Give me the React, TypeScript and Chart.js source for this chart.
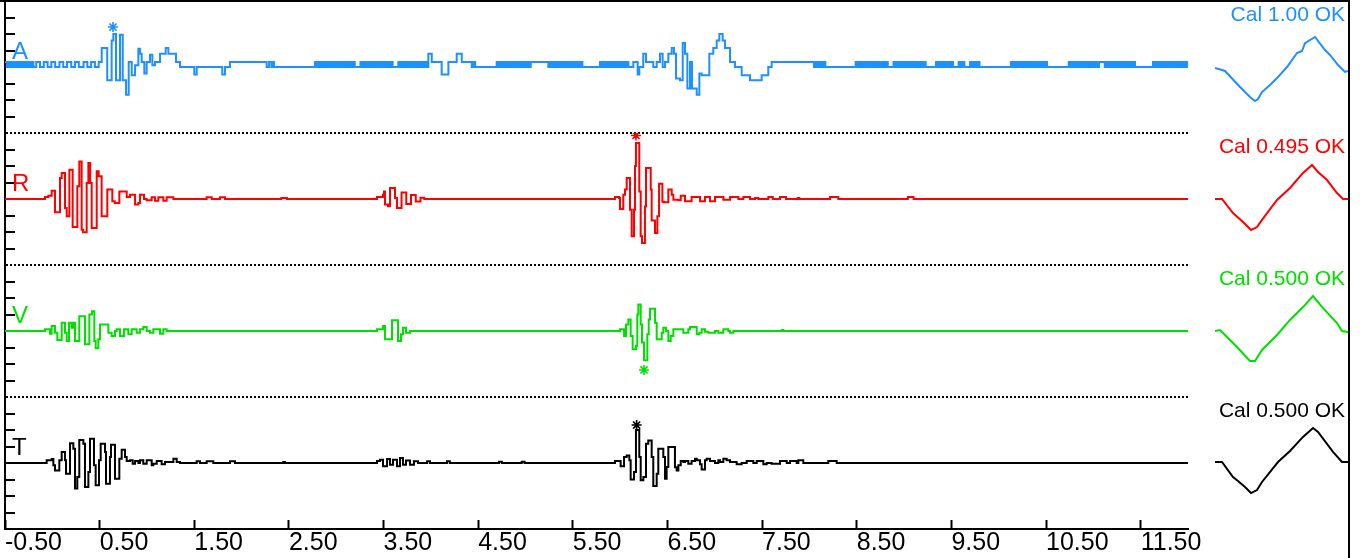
import React, { useEffect, useRef } from 'react';
import { Chart, registerables } from 'chart.js';

Chart.register(...registerables);

const FONT = "'Liberation Sans', Arial, Helvetica, sans-serif";

const CHANNELS = ['A', 'R', 'V', 'T'];
const COLORS = ['#1E90FF', '#FF0000', '#00E000', '#000000'];
const CAL_LABELS = ['Cal 1.00 OK', 'Cal 0.495 OK', 'Cal 0.500 OK', 'Cal 0.500 OK'];
const AXIS_IDS = ['yA', 'yR', 'yV', 'yT'];

const X_TICKS = [-0.5, 0.5, 1.5, 2.5, 3.5, 4.5, 5.5, 6.5, 7.5, 8.5, 9.5, 10.5, 11.5];
const BAND_TICKS = [-3, -2, -1, 0, 1, 2, 3, 4];

// ---- Channel A (time s, amplitude) ----
const A_TIME = [
  -0.500, -0.480, -0.460, -0.440, -0.420, -0.400, -0.380, -0.360, -0.340, -0.320, -0.300, -0.280, -0.260, -0.240, -0.220, -0.200,
  -0.170, -0.130, -0.090, -0.050, -0.010, 0.030, 0.075, 0.115, 0.155, 0.200, 0.240, 0.280, 0.330, 0.370, 0.410, 0.450, 0.490,
  0.522, 0.580, 0.627, 0.645, 0.673, 0.715, 0.744, 0.779, 0.807, 0.839, 0.874, 0.909, 0.926, 0.944, 0.972, 0.997,
  1.032, 1.057, 1.085, 1.138, 1.198, 1.226, 1.307, 1.349, 1.500, 1.526, 1.796, 1.825, 1.877, 2.265, 2.290, 2.315, 2.330, 2.342,
  2.776, 2.796, 2.816, 2.836, 2.856, 2.876, 2.896, 2.916, 2.936, 2.956, 2.976, 2.996, 3.016, 3.036, 3.056, 3.076, 3.096,
  3.116, 3.136, 3.156, 3.176, 3.196,
  3.256, 3.276, 3.296, 3.316, 3.336, 3.356, 3.376, 3.396, 3.416, 3.436, 3.456, 3.476, 3.496, 3.516, 3.536, 3.556, 3.576, 3.596,
  3.656, 3.676, 3.696, 3.716, 3.736, 3.756, 3.776, 3.796, 3.816, 3.836, 3.856, 3.876, 3.896, 3.916, 3.936, 3.956,
  3.973, 4.009, 4.114, 4.185, 4.273, 4.326, 4.432, 4.450, 4.468,
  4.695, 4.715, 4.735, 4.755, 4.775, 4.795, 4.815, 4.835, 4.855, 4.875, 4.895, 4.915, 4.935, 4.955, 4.975, 4.995, 5.015, 5.035, 5.055,
  5.083,
  5.241, 5.261, 5.281, 5.301, 5.321, 5.341, 5.361, 5.381, 5.401, 5.421, 5.441, 5.461, 5.481, 5.501, 5.521, 5.541, 5.561, 5.581, 5.601,
  5.787, 5.807, 5.827, 5.847, 5.867, 5.887, 5.907, 5.927, 5.947, 5.967, 5.987, 6.007, 6.027, 6.047, 6.067, 6.087,
  6.104, 6.139, 6.185, 6.202, 6.244, 6.273, 6.350, 6.386, 6.421, 6.449, 6.474, 6.509, 6.545, 6.569, 6.590, 6.632, 6.661,
  6.685, 6.710, 6.738, 6.759, 6.809, 6.837, 6.861, 6.942, 6.984, 7.020, 7.048, 7.083, 7.108, 7.161, 7.213, 7.284, 7.372,
  7.495, 7.565, 7.601,
  8.048, 8.068, 8.088, 8.108, 8.128, 8.148, 8.168,
  8.488, 8.508, 8.528, 8.548, 8.568, 8.588, 8.608, 8.628, 8.648, 8.668, 8.688, 8.708, 8.728, 8.748, 8.768, 8.788, 8.808, 8.828,
  8.888, 8.908, 8.928, 8.948, 8.968, 8.988, 9.008, 9.028, 9.048, 9.068, 9.088, 9.108, 9.128, 9.148, 9.168, 9.188, 9.208, 9.228,
  9.337, 9.357, 9.377, 9.397, 9.417, 9.437, 9.457, 9.477, 9.497, 9.517, 9.577, 9.597, 9.617, 9.637, 9.697, 9.717, 9.737, 9.757,
  9.777, 9.797,
  10.130, 10.150, 10.170, 10.190, 10.210, 10.230, 10.250, 10.270, 10.290, 10.310, 10.330, 10.350, 10.370, 10.390, 10.410,
  10.430, 10.450, 10.470, 10.490, 10.510,
  10.740, 10.760, 10.780, 10.800, 10.820, 10.840, 10.860, 10.880, 10.900, 10.920, 10.940, 10.960, 10.980, 11.000, 11.020,
  11.040, 11.060, 11.120, 11.140, 11.160, 11.180, 11.200, 11.220, 11.240, 11.260, 11.280, 11.300, 11.320, 11.340, 11.360,
  11.380, 11.400, 11.420, 11.440,
  11.630, 11.650, 11.670, 11.690, 11.710, 11.730, 11.750, 11.770, 11.790, 11.810, 11.830, 11.850, 11.870, 11.890, 11.910,
  11.930, 11.950, 11.970, 11.990, 12.000,
];
const A_VAL = [
  0.3, 0, 0.3, 0, 0.3, 0, 0.3, 0, 0.3, 0,
  0.3, 0, 0.3, 0, 0.3, 0, 0.3, 0, 0.3, 0,
  0.3, 0, 0.3, 0, 0.3, 0, 0.3, 0, 0.3, 0,
  0.3, 0, 0.3,
  1.15, -0.8, 1.6, 2.0, -0.8, 1.96, -0.8, -1.68, 0.3, -0.5, 0.1, 1.1, 0.8, 0.3, -0.4, 0.3,
  0.75, 0.1, 0.3, 0.8, 1.15, 0.8, 0.3, 0, -0.45, 0, -0.45, 0, 0.3, 0, 0.3, 0, 0.3, 0,
  0.3, 0, 0.3, 0, 0.3, 0, 0.3, 0, 0.3, 0,
  0.3, 0, 0.3, 0, 0.3, 0, 0.3, 0, 0.3, 0,
  0.3, 0, 0.3, 0, 0.3, 0, 0.3, 0, 0.3, 0,
  0.3, 0, 0.3, 0, 0.3, 0, 0.3, 0, 0.3, 0,
  0.3, 0, 0.3, 0, 0.3, 0, 0.3, 0, 0.3, 0,
  0.3, 0, 0.3, 0, 0.3, 0,
  0.8, 0.3, -0.45, 0.3, 0.8, 0.3, 0, 0.3, 0,
  0.3, 0, 0.3, 0, 0.3, 0, 0.3, 0, 0.3, 0, 0.3, 0, 0.3, 0, 0.3, 0, 0.3, 0, 0.3,
  0.3,
  0, 0.3, 0, 0.3, 0, 0.3, 0, 0.3, 0, 0.3, 0, 0.3, 0, 0.3, 0, 0.3, 0, 0.3, 0,
  0.3, 0, 0.3, 0, 0.3, 0, 0.3, 0, 0.3, 0, 0.3, 0, 0.3, 0, 0.3, 0,
  0, 0.3, -0.45, 0, 0.8, 0.3, 0, 0.3, 0.8, 0, 0.3, 0.8, 1.15, 0.8, -0.7, -0.8, 1.45,
  0.8, -1.3, 0.3, -1.3, -1.68, -0.4, -0.5, 0.8, 1.15, 1.6, 2.0, 1.6, 1.15, 0.3, 0, -0.5, -0.8,
  -0.5, 0, 0.3,
  0, 0.3, 0, 0.3, 0, 0.3, 0,
  0.3, 0, 0.3, 0, 0.3, 0, 0.3, 0, 0.3, 0, 0.3, 0, 0.3, 0, 0.3, 0, 0.3, 0,
  0.3, 0, 0.3, 0, 0.3, 0, 0.3, 0, 0.3, 0, 0.3, 0, 0.3, 0, 0.3, 0, 0.3, 0,
  0.3, 0, 0.3, 0, 0.3, 0, 0.3, 0, 0.3, 0, 0.3, 0, 0.3, 0, 0.3, 0, 0.3, 0,
  0.3, 0,
  0.3, 0, 0.3, 0, 0.3, 0, 0.3, 0, 0.3, 0, 0.3, 0, 0.3, 0, 0.3, 0, 0.3, 0,
  0.3, 0, 0.3, 0, 0.3, 0, 0.3, 0, 0.3, 0, 0.3, 0, 0.3, 0, 0.3, 0, 0.3, 0,
  0.3, 0, 0.3, 0, 0.3, 0, 0.3, 0, 0.3, 0, 0.3, 0, 0.3, 0, 0.3, 0, 0.3, 0, 0.3, 0,
  0.3, 0, 0.3, 0, 0.3, 0, 0.3, 0, 0.3, 0, 0.3, 0, 0.3, 0, 0.3, 0, 0.3, 0,
  0.3, 0.3,
];

// ---- Channel R ----
const R_TIME = [
  -0.5, -0.077, -0.042, -0.007, 0.028, 0.081, 0.099, 0.134, 0.152, 0.180, 0.215, 0.264, 0.285, 0.310, 0.325, 0.363, 0.381,
  0.400, 0.416, 0.469, 0.490, 0.521, 0.581, 0.634, 0.660, 0.708, 0.786, 0.821, 0.874, 0.909, 0.926, 0.969, 0.997, 1.050,
  1.085, 1.120, 1.173, 1.208, 1.279, 1.631, 1.684, 1.772, 1.825, 2.420, 2.480,
  3.431, 3.494, 3.505, 3.515, 3.547, 3.568, 3.621, 3.642, 3.690, 3.740, 3.790, 3.840, 3.890, 3.930,
  5.945, 5.988, 5.998, 6.033, 6.051, 6.069, 6.104, 6.122, 6.146, 6.157, 6.167, 6.202, 6.217, 6.231, 6.262, 6.273, 6.323,
  6.333, 6.368, 6.393, 6.411, 6.446, 6.463, 6.509, 6.545, 6.562, 6.615, 6.640, 6.685, 6.755, 6.844, 6.896, 6.949, 7.002,
  7.090, 7.161, 7.249, 7.302, 7.372, 7.425, 7.460, 7.566, 7.612, 7.689, 7.752, 7.876, 7.893, 8.217, 8.305, 9.040, 9.100, 12.0,
];
const R_VAL = [
  0, 0.12, 0.2, 0.5, -0.8, 1.27, 1.58, -0.55, -1.05, 1.78, -1.7, 0.77, 2.28, -1.86, -2.02, 0.97, 2.18,
  0.97, -1.76, 1.68, 1.38, -1.05, 0.57, -0.14, -0.24, 0.46, 0.12, 0.26, -0.34, -0.24, 0.26, 0, -0.08, 0.1,
  -0.1, 0.1, -0.1, 0.1, 0, 0.1, 0, 0.1, 0, 0.06, 0,
  0.12, 0.26, 0.46, -0.34, -0.44, 0.67, 0.06, -0.55, 0.4, -0.3, 0.25, -0.15, 0.08, 0,
  0.12, 0.06, -0.6, 0.26, 0.57, 1.27, -0.65, -2.26, -0.65, 2.0, 3.4, 0.46, -2.26, -2.67, -0.45, 1.88, 0.57,
  -1.3, -2.06, -1.05, 0.93, -0.16, -0.2, 0.57, 0.26, -0.04, -0.08, 0.2, -0.14, 0.12, -0.14, 0.12, -0.14, 0.12,
  -0.04, 0.12, 0, 0.12, 0, 0.06, 0, 0.12, 0, 0.12, 0, 0.06, 0, 0.12, 0, 0.12, 0, 0,
];

// ---- Channel V ----
const V_TIME = [
  -0.5, -0.077, -0.024, -0.007, 0.028, 0.053, 0.099, 0.134, 0.152, 0.176, 0.204, 0.222, 0.240, 0.285, 0.345, 0.391, 0.419,
  0.444, 0.458, 0.486, 0.504, 0.592, 0.627, 0.662, 0.680, 0.715, 0.757, 0.803, 0.838, 0.891, 0.926, 0.961, 0.997, 1.032,
  1.067, 1.138, 1.173, 1.208,
  3.431, 3.494, 3.515, 3.589, 3.653, 3.684, 3.705, 3.737, 3.779,
  5.998, 6.041, 6.062, 6.086, 6.111, 6.132, 6.167, 6.181, 6.192, 6.217, 6.231, 6.252, 6.287, 6.302, 6.315, 6.368, 6.386,
  6.439, 6.456, 6.484, 6.509, 6.534, 6.562, 6.667, 6.720, 6.738, 6.809, 6.836, 6.861, 6.896, 6.931, 7.002, 7.037, 7.090,
  7.143, 7.161, 7.196, 7.710, 7.725, 12.0,
];
const V_VAL = [
  0, 0.1, -0.16, 0.3, -0.1, -0.55, 0.5, -0.1, -0.6, 0.5, 0.2, 0.5, -0.6, 0.9, -0.8, 1.0, 1.2,
  -0.6, -1.05, -0.5, 0.4, -0.1, -0.3, 0, 0.1, -0.3, 0.1, -0.2, 0.1, -0.1, 0.1, 0.25, 0, -0.1,
  0.1, -0.16, 0.1, 0,
  0.1, 0.3, -0.5, 0.65, -0.6, -0.2, 0.2, -0.1, 0,
  0.1, -0.3, 0.4, 0.7, -0.3, -1.1, -0.9, 1.0, 1.6, 0.4, -0.7, -1.78, -0.2, 0.7, 1.35, 0.5, -0.5,
  -0.1, 0.2, 0, -0.6, -0.3, 0.1, -0.1, 0.1, 0.25, -0.2, -0.1, 0.1, -0.04, -0.1, 0, -0.1, 0.1,
  0, -0.1, 0, 0.06, 0, 0,
];

// ---- Channel T ----
const T_TIME = [
  -0.5, -0.060, -0.007, 0.011, 0.028, 0.074, 0.099, 0.134, 0.145, 0.187, 0.222, 0.240, 0.264, 0.285, 0.328, 0.345, 0.381,
  0.398, 0.440, 0.458, 0.493, 0.511, 0.557, 0.567, 0.609, 0.620, 0.662, 0.708, 0.733, 0.768, 0.786, 0.821, 0.849, 0.874,
  0.909, 0.926, 0.961, 0.997, 1.050, 1.067, 1.103, 1.155, 1.190, 1.279, 1.314, 1.349, 1.525, 1.560, 1.631, 1.701, 1.877,
  1.930, 2.441, 2.458,
  3.431, 3.463, 3.494, 3.537, 3.568, 3.600, 3.642, 3.674, 3.705, 3.737, 3.779, 3.821, 3.864, 3.960, 3.990, 4.170, 4.200,
  4.720, 4.750, 4.960, 4.990,
  5.945, 6.005, 6.041, 6.069, 6.097, 6.111, 6.146, 6.167, 6.202, 6.217, 6.245, 6.273, 6.297, 6.333, 6.350, 6.386, 6.403,
  6.456, 6.474, 6.491, 6.509, 6.579, 6.597, 6.615, 6.640, 6.667, 6.685, 6.720, 6.755, 6.791, 6.809, 6.844, 6.861, 6.896,
  6.914, 6.949, 7.002, 7.037, 7.055, 7.090, 7.125, 7.161, 7.231, 7.284, 7.337, 7.407, 7.443, 7.513, 7.548, 7.601, 7.689,
  7.760, 7.795, 7.865, 7.883, 7.935, 8.199, 8.288, 12.0,
];
const T_VAL = [
  0, 0.16, 0.25, -0.14, -0.45, 0.16, 0.67, 0.16, -0.65, 1.2, 0.87, -1.55, -0.85, 1.4, 1.17, -1.45, -0.55,
  1.47, -0.14, -1.35, 0.16, 1.17, 0.67, -1.25, 0.36, 1.1, -0.95, 0.26, 0.8, 0.36, 0.12, 0.16, -0.04, 0.12,
  0, 0.16, -0.04, 0.16, -0.14, -0.04, 0.12, -0.08, 0.06, 0.26, 0.06, 0, 0.1, 0, 0.1, 0, 0.1,
  0, 0.06, 0,
  0.12, 0.2, -0.2, 0.25, -0.1, 0.2, -0.2, 0.3, -0.1, 0.15, -0.1, 0.1, 0, 0.1, 0, 0.1, 0,
  0.08, 0, 0.08, 0,
  0.12, -0.2, 0.36, 0.46, 0.16, -1.0, -0.55, 2.0, 0.36, -1.05, -0.85, 1.17, 1.37, 0.36, -1.4, -0.65, 0.87,
  0.36, -0.95, -0.24, 0.97, -0.25, -0.45, -0.14, 0.12, 0.06, 0.12, -0.04, 0.12, 0.26, 0.16, -0.08, -0.4, 0.16,
  0.26, 0.12, 0, 0.16, 0.06, 0.26, 0.16, 0.06, -0.08, 0, 0.12, 0, 0.12, -0.08, 0, -0.04, 0.12,
  0, 0.12, 0, 0.16, 0, 0.12, 0, 0,
];

// ---- Phase pick markers (*) ----
const STAR_TIME = [0.641, 6.167, 6.252, 6.174];
const STAR_VAL = [2.42, 3.85, -2.36, 2.3];

// ---- Calibration pulses ----
const CAL_A_X = [0.27, 0.34, 0.37, 0.52, 0.62, 0.67, 0.70, 0.74, 0.82, 0.89, 0.99, 1.09, 1.14, 1.17, 1.27, 1.37, 1.42, 1.50, 1.57, 1.60];
const CAL_A_Y = [-0.06, -0.18, -0.24, -1.21, -1.82, -2.06, -1.94, -1.52, -1.09, -0.67, 0, 0.85, 0.97, 1.45, 1.82, 1.03, 0.73, 0.12, -0.30, -0.24];
const CAL_R_X = [0.27, 0.34, 0.45, 0.55, 0.63, 0.69, 0.74, 0.89, 1.02, 1.15, 1.24, 1.30, 1.39, 1.49, 1.55, 1.60];
const CAL_R_Y = [0, 0, -0.85, -1.39, -1.88, -1.70, -1.27, -0.06, 0.67, 1.58, 2.06, 1.64, 1.15, 0.36, 0, 0];
const CAL_V_X = [0.27, 0.32, 0.34, 0.49, 0.62, 0.67, 0.74, 0.89, 1.02, 1.15, 1.25, 1.35, 1.49, 1.54, 1.60];
const CAL_V_Y = [0, 0.06, -0.06, -0.97, -1.82, -1.82, -1.15, -0.24, 0.67, 1.45, 2.12, 1.39, 0.48, 0, -0.06];
const CAL_T_X = [0.27, 0.34, 0.45, 0.50, 0.57, 0.63, 0.69, 0.74, 0.90, 1.02, 1.15, 1.25, 1.30, 1.45, 1.54, 1.60];
const CAL_T_Y = [0.06, 0.06, -0.85, -1.09, -1.45, -1.82, -1.64, -1.15, 0.06, 0.73, 1.58, 2.12, 1.88, 0.67, 0.06, 0.06];

const TRACE_TIMES = [A_TIME, R_TIME, V_TIME, T_TIME];
const TRACE_VALS = [A_VAL, R_VAL, V_VAL, T_VAL];
const CAL_XS = [CAL_A_X, CAL_R_X, CAL_V_X, CAL_T_X];
const CAL_YS = [CAL_A_Y, CAL_R_Y, CAL_V_Y, CAL_T_Y];

function bandScales(visible: boolean) {
  const scales: any = {};
  // defined bottom-to-top so that the stacked layout puts A on top
  ['yT', 'yV', 'yR', 'yA'].forEach((id) => {
    scales[id] = {
      type: 'linear',
      position: 'left',
      stack: 'bands',
      stackWeight: 1,
      min: -4,
      max: 4,
      afterBuildTicks: (s: any) => {
        s.ticks = BAND_TICKS.map((v) => ({ value: v }));
      },
      afterFit: (s: any) => {
        s.width = 0;
      },
      ticks: { display: false },
      grid: visible
        ? {
            display: true,
            drawOnChartArea: true,
            lineWidth: 2,
            color: (ctx: any) =>
              ctx.tick && ctx.tick.value === 4 && id !== 'yA' ? '#000000' : 'rgba(0,0,0,0)',
            drawTicks: true,
            tickLength: -10,
            tickWidth: 2,
            tickColor: (ctx: any) =>
              ctx.tick && Math.abs(ctx.tick.value) <= 3 ? '#000000' : 'rgba(0,0,0,0)',
          }
        : { display: false },
      border: visible
        ? { display: true, color: '#000000', width: 2, dash: [2, 2] }
        : { display: false },
    };
  });
  return scales;
}

const channelLabelPlugin = {
  id: 'channelLabels',
  afterDatasetsDraw(chart: any) {
    const ctx = chart.ctx;
    ctx.save();
    ctx.font = `24px ${FONT}`;
    ctx.textAlign = 'left';
    ctx.textBaseline = 'alphabetic';
    CHANNELS.forEach((name, i) => {
      const s = chart.scales[AXIS_IDS[i]];
      ctx.fillStyle = COLORS[i];
      ctx.fillText(name, chart.chartArea.left + 7, s.getPixelForValue(0) - 8);
    });
    ctx.restore();
  },
};

const calLabelPlugin = {
  id: 'calLabels',
  afterDatasetsDraw(chart: any) {
    const ctx = chart.ctx;
    ctx.save();
    ctx.font = `21px ${FONT}`;
    ctx.textAlign = 'right';
    ctx.textBaseline = 'alphabetic';
    CAL_LABELS.forEach((txt, i) => {
      const s = chart.scales[AXIS_IDS[i]];
      ctx.fillStyle = COLORS[i];
      ctx.fillText(txt, chart.chartArea.right - 3, s.getPixelForValue(4) + 20);
    });
    ctx.restore();
  },
};

export default function App() {
  const mainRef = useRef<HTMLCanvasElement>(null);
  const calRef = useRef<HTMLCanvasElement>(null);

  useEffect(() => {
    const datasets: any[] = [];
    CHANNELS.forEach((c, i) => {
      datasets.push({
        label: c,
        data: TRACE_TIMES[i].map((t, k) => ({ x: t, y: TRACE_VALS[i][k] ?? 0 })),
        yAxisID: AXIS_IDS[i],
        borderColor: COLORS[i],
        backgroundColor: COLORS[i],
        borderWidth: 2,
        pointRadius: 0,
        pointHoverRadius: 0,
        stepped: 'before',
        tension: 0,
        fill: false,
      });
    });
    STAR_TIME.forEach((t, i) => {
      datasets.push({
        label: CHANNELS[i] + '*',
        data: [{ x: t, y: STAR_VAL[i] }],
        yAxisID: AXIS_IDS[i],
        showLine: false,
        pointStyle: 'star',
        pointRadius: 5,
        pointBorderWidth: 1.6,
        pointBorderColor: COLORS[i],
        pointBackgroundColor: COLORS[i],
      });
    });

    const main = new Chart(mainRef.current as HTMLCanvasElement, {
      type: 'line',
      data: { datasets },
      options: {
        responsive: false,
        animation: false,
        devicePixelRatio: 1,
        events: [],
        layout: { autoPadding: false, padding: { left: 5, top: 1, right: 175, bottom: 0 } },
        plugins: { legend: { display: false }, tooltip: { enabled: false } },
        scales: {
          x: {
            type: 'linear',
            position: 'bottom',
            min: -0.5,
            max: 12.0,
            afterBuildTicks: (s: any) => {
              s.ticks = X_TICKS.map((v) => ({ value: v }));
            },
            afterFit: (s: any) => {
              s.height = 29;
              s.paddingLeft = 0;
              s.paddingRight = 0;
            },
            ticks: {
              autoSkip: false,
              maxRotation: 0,
              minRotation: 0,
              align: 'start',
              padding: 8,
              color: '#000000',
              font: { family: FONT, size: 25 },
              callback: (v: any) => Number(v).toFixed(2),
            },
            grid: {
              display: true,
              drawOnChartArea: false,
              drawTicks: true,
              tickLength: -9,
              tickWidth: 2,
              tickColor: '#000000',
            },
            border: { display: true, color: '#000000', width: 2 },
          },
          ...bandScales(true),
        },
      } as any,
      plugins: [channelLabelPlugin],
    });

    const calSets = CHANNELS.map((c, i) => ({
      label: 'cal ' + c,
      data: CAL_XS[i].map((x, k) => ({ x, y: CAL_YS[i][k] })),
      yAxisID: AXIS_IDS[i],
      borderColor: COLORS[i],
      borderWidth: 2,
      pointRadius: 0,
      pointHoverRadius: 0,
      tension: 0,
      fill: false,
    }));

    const cal = new Chart(calRef.current as HTMLCanvasElement, {
      type: 'line',
      data: { datasets: calSets },
      options: {
        responsive: false,
        animation: false,
        devicePixelRatio: 1,
        events: [],
        layout: { autoPadding: false, padding: { left: 0, top: 1, right: 15, bottom: 29 } },
        plugins: { legend: { display: false }, tooltip: { enabled: false } },
        scales: {
          x: { type: 'linear', min: 0, max: 1.6, display: false },
          ...bandScales(false),
        },
      } as any,
      plugins: [calLabelPlugin],
    });

    return () => {
      main.destroy();
      cal.destroy();
    };
  }, []);

  return (
    <div
      style={{
        position: 'fixed',
        left: 0,
        top: 0,
        width: 1363,
        height: 558,
        background: '#ffffff',
        overflow: 'hidden',
      }}
    >
      <canvas
        ref={mainRef}
        width={1363}
        height={558}
        style={{ position: 'absolute', left: 0, top: 0, width: 1363, height: 558 }}
      />
      <canvas
        ref={calRef}
        width={175}
        height={558}
        style={{ position: 'absolute', left: 1188, top: 0, width: 175, height: 558 }}
      />
      <div
        style={{
          position: 'absolute',
          left: 0,
          top: 0,
          width: 1350,
          height: 558,
          borderTop: '2px solid #000',
          borderRight: '2px solid #000',
          boxSizing: 'border-box',
          pointerEvents: 'none',
        }}
      />
    </div>
  );
}
